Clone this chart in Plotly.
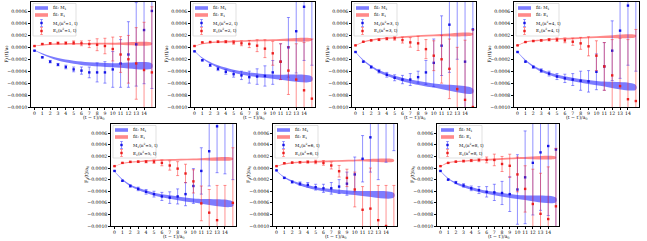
import plotly.graph_objects as go

t = list(range(16))
n2_values = [1, 2, 3, 4, 5, 6, 8]
x_ticks = list(range(15))

# ---- data points: M_1 (blue) and E_1 (red) per panel ----
M_1 = [-0.000056, -0.000167, -0.00024, -0.00029, -0.00033, -0.00037, -0.00039, -0.00042, -0.00042, -0.00042, -0.00037, -0.00027, -0.00012, 0.00005, 0.00029, 0.00061]
M_1_err = [0.000005, 0.00001, 0.00002, 0.00002, 0.00003, 0.00004, 0.00006, 0.00009, 0.00016, 0.00018, 0.0003, 0.0004, 0.00055, 0.0007, 0.0009, 0.0013]
E_1 = [0.000022, 0.000056, 0.000067, 0.000072, 0.000072, 0.000078, 0.000067, 0.000056, 0.000044, 0.000022, -0.000028, -0.00012, -0.0002, -0.00027, -0.00038, -0.00042]
E_1_err = [0.000003, 0.000006, 0.00001, 0.000015, 0.00002, 0.00003, 0.00004, 0.00006, 0.0001, 0.00013, 0.0002, 0.0003, 0.0004, 0.0006, 0.0008, 0.0011]

M_2 = [-0.000067, -0.000217, -0.0003, -0.00036, -0.00041, -0.00045, -0.00047, -0.0005, -0.00049, -0.00048, -0.00042, -0.00024, 0.0, 0.00027, 0.00068, 0.0009]
M_2_err = [0.000005, 0.00001, 0.00002, 0.00003, 0.00004, 0.00005, 0.00007, 0.0001, 0.00013, 0.00017, 0.0002, 0.0003, 0.0005, 0.0007, 0.0009, 0.0012]
E_2 = [0.000022, 0.000083, 0.000089, 0.000094, 0.000094, 0.000083, 0.000067, 0.000056, 0.000028, -0.000022, -0.0001, -0.00024, -0.00039, -0.00054, -0.00072, -0.00086]
E_2_err = [0.000003, 0.000006, 0.00001, 0.000015, 0.00002, 0.00003, 0.00004, 0.00006, 0.0001, 0.00015, 0.0002, 0.0003, 0.0004, 0.0006, 0.0008, 0.001]

M_3 = [-0.000078, -0.00024, -0.00033, -0.0004, -0.00046, -0.00051, -0.00054, -0.00054, -0.0005, -0.00042, -0.00026, 0.000028, 0.00038, 0.0009, -0.00024, 0.0003]
M_3_err = [0.000005, 0.00001, 0.00002, 0.00003, 0.00004, 0.00005, 0.00007, 0.0001, 0.0001, 0.0002, 0.0004, 0.0005, 0.0008, 0.0011, 0.0012, 0.0015]
E_3 = [0.000033, 0.000094, 0.000117, 0.000128, 0.000144, 0.00015, 0.000122, 0.000083, 0.000067, -0.00003, -0.00014, -0.0002, -0.00036, -0.0007, -0.00088, -0.001]
E_3_err = [0.000003, 0.000006, 0.00001, 0.000015, 0.00002, 0.00003, 0.00005, 0.00008, 0.00012, 0.00016, 0.00025, 0.0004, 0.0005, 0.0007, 0.001, 0.0013]

M_4 = [-0.000078, -0.00024, -0.00033, -0.00039, -0.00044, -0.00049, -0.00052, -0.00054, -0.00056, -0.00057, -0.00041, -0.00032, -0.000056, 0.00028, 0.0007, 0.0009]
M_4_err = [0.000005, 0.00001, 0.00002, 0.00003, 0.00004, 0.00005, 0.00007, 0.0001, 0.00016, 0.00018, 0.0003, 0.0004, 0.0005, 0.0008, 0.001, 0.0013]
E_4 = [0.000033, 0.000089, 0.000106, 0.000117, 0.000128, 0.000128, 0.000117, 0.000094, 0.000067, 0.000017, -0.00014, -0.00032, -0.00047, -0.00065, -0.00087, -0.0009]
E_4_err = [0.000003, 0.000006, 0.00001, 0.000015, 0.00002, 0.00003, 0.00004, 0.00006, 0.0001, 0.00016, 0.00025, 0.0004, 0.0006, 0.0008, 0.001, 0.0012]

M_5 = [-0.00005, -0.00022, -0.00031, -0.00036, -0.00041, -0.00045, -0.00049, -0.00051, -0.00049, -0.00045, -0.00031, -0.00005, 0.00029, 0.00072, 0.0009, 0.0011]
M_5_err = [0.000005, 0.00001, 0.00002, 0.00003, 0.00004, 0.00005, 0.00007, 0.0001, 0.00013, 0.0002, 0.0003, 0.0004, 0.0006, 0.0008, 0.001, 0.0013]
E_5 = [0.000033, 0.000089, 0.000106, 0.00011, 0.00011, 0.00011, 0.000089, 0.000044, -0.00001, -0.000094, -0.00023, -0.00061, -0.00077, -0.0009, -0.0011, -0.0006]
E_5_err = [0.000003, 0.000006, 0.00001, 0.000015, 0.00002, 0.00003, 0.00005, 0.00008, 0.00012, 0.00016, 0.0002, 0.0003, 0.0004, 0.0006, 0.0008, 0.00095]

M_6 = [-0.00004, -0.00017, -0.00024, -0.00027, -0.00029, -0.00033, -0.00035, -0.00035, -0.00032, -0.00027, -0.00011, 0.00016, 0.00053, 0.0008, 0.0011, 0.0012]
M_6_err = [0.000005, 0.00001, 0.00002, 0.00003, 0.00004, 0.00005, 0.00007, 0.0001, 0.00012, 0.0002, 0.0003, 0.0004, 0.0006, 0.001, 0.001, 0.0009]
E_6 = [0.000033, 0.000083, 0.000094, 0.0001, 0.000105, 0.000105, 0.000089, 0.000044, -0.000055, -0.00017, -0.00037, -0.00072, -0.0007, -0.0009, -0.001, -0.0011]
E_6_err = [0.000003, 0.000006, 0.00001, 0.000015, 0.00002, 0.00003, 0.00004, 0.00006, 0.0001, 0.00015, 0.0003, 0.0004, 0.0007, 0.0006, 0.0007, 0.0008]

M_8 = [-0.00005, -0.0002, -0.00025, -0.0003, -0.00035, -0.00038, -0.00041, -0.00042, -0.00043, -0.00045, -0.00037, -0.00016, 0.00009, 0.00027, 0.00038, 0.00032]
M_8_err = [0.000005, 0.00001, 0.00002, 0.00003, 0.00004, 0.00006, 0.00009, 0.00014, 0.0002, 0.0003, 0.0006, 0.0008, 0.0009, 0.001, 0.0012, 0.0014]
E_8 = [0.000033, 0.000089, 0.00011, 0.00012, 0.00013, 0.00014, 0.00014, 0.00014, 0.00007, 0.000039, -0.00011, -0.00036, -0.00062, -0.00079, -0.00088, -0.00066]
E_8_err = [0.000003, 0.000006, 0.00001, 0.000015, 0.00002, 0.00003, 0.00005, 0.0001, 0.00013, 0.0002, 0.0003, 0.0004, 0.0006, 0.0007, 0.0009, 0.001]

# ---- fit bands (centre and half-width at knot times) ----
t_band = [0, 1, 2, 3, 5, 7, 10, 15]
band_hw_M = [0.000004, 0.00001, 0.000015, 0.00002, 0.000025, 0.00003, 0.000035, 0.00004]
band_hw_E = [0.000003, 0.000008, 0.00001, 0.000012, 0.000013, 0.000014, 0.000015, 0.000015]

fitM_1 = [-0.00005, -0.00011, -0.00016, -0.0002, -0.00025, -0.00028, -0.0003, -0.00031]
fitE_1 = [0.00002, 0.00004, 0.00005, 0.000055, 0.00006, 0.00006, 0.00006, 0.00006]
fitM_2 = [-0.00006, -0.00018, -0.00026, -0.00032, -0.0004, -0.00045, -0.00049, -0.00053]
fitE_2 = [0.00002, 0.00006, 0.00008, 0.00009, 0.0001, 0.00011, 0.00012, 0.00013]
fitM_3 = [-0.00008, -0.00022, -0.00032, -0.0004, -0.0005, -0.00057, -0.00064, -0.00073]
fitE_3 = [0.00003, 0.00009, 0.00012, 0.00014, 0.00016, 0.00018, 0.0002, 0.00022]
fitM_4 = [-0.00008, -0.00022, -0.00032, -0.00039, -0.00048, -0.00054, -0.0006, -0.00067]
fitE_4 = [0.00003, 0.00009, 0.00011, 0.00012, 0.00014, 0.00015, 0.00017, 0.00019]
fitM_5 = [-0.00006, -0.0002, -0.0003, -0.00036, -0.00045, -0.0005, -0.00056, -0.00062]
fitE_5 = [0.00003, 0.00008, 0.0001, 0.00011, 0.00013, 0.00014, 0.00015, 0.00016]
fitM_6 = [-0.00005, -0.00016, -0.00023, -0.00028, -0.00035, -0.00039, -0.00043, -0.00047]
fitE_6 = [0.00003, 0.00007, 0.00009, 0.0001, 0.00011, 0.00012, 0.00013, 0.00013]
fitM_8 = [-0.00005, -0.00018, -0.00026, -0.00031, -0.00039, -0.00044, -0.0005, -0.00055]
fitE_8 = [0.00003, 0.00009, 0.00011, 0.00012, 0.00014, 0.00015, 0.00017, 0.00018]

panels = [
    (1, M_1, M_1_err, E_1, E_1_err, fitM_1, fitE_1),
    (2, M_2, M_2_err, E_2, E_2_err, fitM_2, fitE_2),
    (3, M_3, M_3_err, E_3, E_3_err, fitM_3, fitE_3),
    (4, M_4, M_4_err, E_4, E_4_err, fitM_4, fitE_4),
    (5, M_5, M_5_err, E_5, E_5_err, fitM_5, fitE_5),
    (6, M_6, M_6_err, E_6, E_6_err, fitM_6, fitE_6),
    (8, M_8, M_8_err, E_8, E_8_err, fitM_8, fitE_8),
]

W, H = 647, 241
# pixel boxes (left, right, top, bottom) for each panel
boxes = [
    (31, 155, 2, 107), (191, 315, 2, 107), (352, 476, 2, 107), (514, 639, 2, 107),
    (111, 236, 124, 226), (273, 397, 124, 226), (437, 559, 124, 226),
]

FONT = "DejaVu Serif"
FS = 4.6
BLUE = "rgb(20,20,230)"
RED = "rgb(235,30,30)"
BAND_BLUE = "rgba(30,30,255,0.58)"
BAND_RED = "rgba(255,40,40,0.55)"
ERR_BLUE = "rgba(40,40,255,0.5)"
ERR_RED = "rgba(255,40,40,0.5)"


def px(x):
    return x / W


def py(y):
    return 1 - y / H


fig = go.Figure()
layout = dict(template="none", width=W, height=H, margin=dict(l=0, r=0, t=0, b=0, pad=0),
              paper_bgcolor="white", plot_bgcolor="white",
              font=dict(family=FONT, size=FS, color="black"), showlegend=False)
shapes = []
annotations = []

for i, (n2, M, Me, E, Ee, fM, fE) in enumerate(panels):
    k = i + 1
    xa = "x" if k == 1 else f"x{k}"
    ya = "y" if k == 1 else f"y{k}"
    for fc, hw, col in [(fM, band_hw_M, BAND_BLUE), (fE, band_hw_E, BAND_RED)]:
        up = [c + h for c, h in zip(fc, hw)]
        lo = [c - h for c, h in zip(fc, hw)]
        fig.add_trace(go.Scatter(x=t_band + t_band[::-1], y=up + lo[::-1], fill="toself",
                                 fillcolor=col, line=dict(width=0, shape="spline", color=col),
                                 mode="lines", xaxis=xa, yaxis=ya, hoverinfo="skip"))
    fig.add_trace(go.Scatter(x=t, y=M, mode="markers", xaxis=xa, yaxis=ya,
                             marker=dict(symbol="square", size=2.4, color=BLUE, line=dict(width=0)),
                             error_y=dict(type="data", array=Me, color=ERR_BLUE,
                                          thickness=1, width=1.5)))
    fig.add_trace(go.Scatter(x=t, y=E, mode="markers", xaxis=xa, yaxis=ya,
                             marker=dict(symbol="square", size=2.4, color=RED, line=dict(width=0)),
                             error_y=dict(type="data", array=Ee, color=ERR_RED,
                                          thickness=1, width=1.5)))
    l, r, tp, b = boxes[i]
    xd = [px(l), px(r)]
    yd = [py(b), py(tp)]
    common = dict(showline=True, linecolor="black", linewidth=0.6, mirror=True,
                  ticks="outside", ticklen=2, tickwidth=0.5, tickcolor="black",
                  showgrid=False, zeroline=False, tickfont=dict(family=FONT, size=FS),
                  tickangle=0, automargin=False)
    layout["xaxis" if k == 1 else f"xaxis{k}"] = dict(
        domain=xd, anchor=ya, range=[-0.45, 15.4], tickmode="array",
        tickvals=x_ticks, ticktext=[str(v) for v in x_ticks], **common)
    layout["yaxis" if k == 1 else f"yaxis{k}"] = dict(
        domain=yd, anchor=xa, range=[-0.0010, 0.00076], dtick=0.0002, tick0=0,
        tickformat=".4f", **common)

    annotations.append(dict(text="(t − t′)/a<sub>0</sub>", x=px((l + r) / 2), y=py(b + 10.5),
                            xref="paper", yref="paper", showarrow=False,
                            xanchor="center", yanchor="middle",
                            font=dict(family=FONT, size=FS)))
    annotations.append(dict(text="F<sub>1</sub>(t)/a<sub>0</sub>", x=px(l - 24), y=py((tp + b) / 2),
                            xref="paper", yref="paper", showarrow=False, textangle=-90,
                            xanchor="center", yanchor="middle",
                            font=dict(family=FONT, size=FS)))

    shapes.append(dict(type="rect", xref="paper", yref="paper",
                       x0=px(l + 2), x1=px(l + 45), y0=py(tp + 1.5), y1=py(tp + 34),
                       fillcolor="rgba(255,255,255,0.85)", line=dict(color="#cccccc", width=0.6),
                       layer="above"))
    rows = [tp + 6, tp + 13, tp + 21, tp + 29]
    labels = ["fit: M<sub>1</sub>", "fit: E<sub>1</sub>",
              f"M<sub>1</sub>(n<sup>2</sup>={n2}, t)", f"E<sub>1</sub>(n<sup>2</sup>={n2}, t)"]
    for ry, col in [(rows[0], BAND_BLUE), (rows[1], BAND_RED)]:
        shapes.append(dict(type="rect", xref="paper", yref="paper",
                           x0=px(l + 4), x1=px(l + 17), y0=py(ry + 1.8), y1=py(ry - 1.8),
                           fillcolor=col, line=dict(width=0), layer="above"))
    for ry, ecol, mcol in [(rows[2], ERR_BLUE, BLUE), (rows[3], ERR_RED, RED)]:
        cx = l + 10.5
        shapes.append(dict(type="line", xref="paper", yref="paper",
                           x0=px(cx), x1=px(cx), y0=py(ry - 3.5), y1=py(ry + 3.5),
                           line=dict(color=ecol, width=1), layer="above"))
        for cy in (ry - 3.5, ry + 3.5):
            shapes.append(dict(type="line", xref="paper", yref="paper",
                               x0=px(cx - 1.5), x1=px(cx + 1.5), y0=py(cy), y1=py(cy),
                               line=dict(color=ecol, width=0.8), layer="above"))
        shapes.append(dict(type="rect", xref="paper", yref="paper",
                           x0=px(cx - 1.2), x1=px(cx + 1.2), y0=py(ry + 1.2), y1=py(ry - 1.2),
                           fillcolor=mcol, line=dict(width=0), layer="above"))
    for ry, lab in zip(rows, labels):
        annotations.append(dict(text=lab, x=px(l + 20), y=py(ry), xref="paper", yref="paper",
                                showarrow=False, xanchor="left", yanchor="middle",
                                font=dict(family=FONT, size=4.2)))

layout["shapes"] = shapes
layout["annotations"] = annotations
fig.update_layout(**layout)
fig.write_html("out.html", config={"displayModeBar": False},
               post_script="document.body.style.margin='0';document.body.style.padding='0';")
